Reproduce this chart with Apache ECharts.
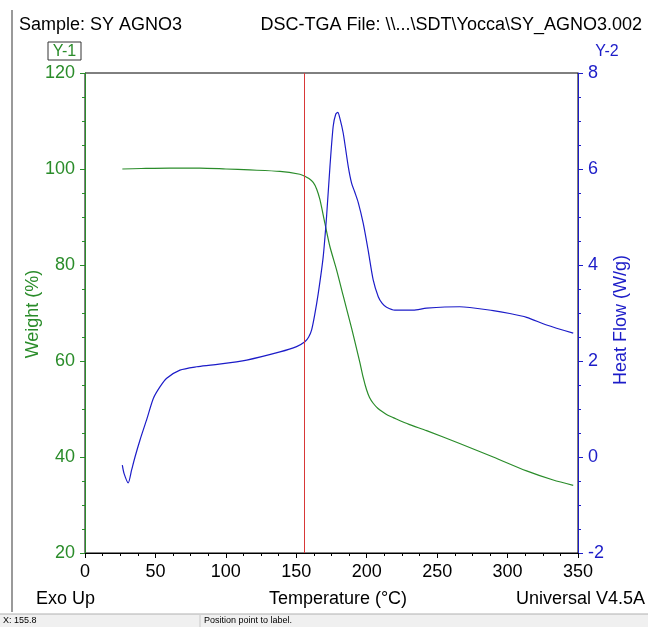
<!DOCTYPE html>
<html>
<head>
<meta charset="utf-8">
<script src="https://cdn.jsdelivr.net/npm/echarts@6/dist/echarts.min.js"></script>
<style>
html,body{margin:0;padding:0;background:#fff;}
#c{width:648px;height:627px;}
</style>
</head>
<body>
<div id="c"></div>
<script>
// Weight (%) vs temperature (°C)
var weightT = [26.5, 40, 60, 81.6, 100, 117, 138.4, 152.5, 156.1, 159, 162, 164.5, 166.8, 170.3, 173.9, 178.6, 183.3, 189.3, 193, 195.2, 197.5, 199.9, 202, 204.6, 208, 211.7, 215, 218.8, 230, 242.5, 266, 289.8, 313.5, 332.4, 346.6];
var weightV = [100.0, 100.1, 100.2, 100.2, 100.0, 99.8, 99.5, 98.9, 98.5, 98.0, 97.2, 95.8, 93.6, 88.7, 83.8, 79.0, 73.6, 66.8, 62.3, 59.6, 56.6, 54.0, 52.4, 51.2, 50.1, 49.3, 48.7, 48.2, 46.8, 45.5, 42.8, 40.0, 37.1, 35.2, 34.1];
// Heat flow (W/g) vs temperature (°C)
var heatT = [26.5, 27.7, 30.7, 33.1, 35.5, 39, 44, 48.5, 53.2, 58, 67.4, 79.3, 91, 114.8, 138.4, 150.2, 156.1, 158.8, 160.9, 163, 165.6, 169.1, 171.5, 173.9, 176.2, 178, 179.5, 181, 183.3, 186.9, 189.3, 191.5, 194, 197.5, 201, 204.6, 208.2, 211, 214.1, 220, 233, 242.5, 266, 289.8, 301.6, 313.5, 327.7, 346.6];
var heatV = [-0.17, -0.34, -0.54, -0.27, 0.0, 0.35, 0.80, 1.22, 1.46, 1.64, 1.81, 1.88, 1.92, 2.02, 2.19, 2.30, 2.40, 2.50, 2.65, 2.95, 3.41, 4.17, 5.01, 6.05, 6.89, 7.14, 7.18, 7.05, 6.75, 6.05, 5.70, 5.52, 5.30, 4.87, 4.31, 3.69, 3.34, 3.20, 3.12, 3.06, 3.06, 3.10, 3.13, 3.05, 2.99, 2.91, 2.75, 2.58];
var cursorX = 155.8;
var xTicks = [0, 350, 50];
var y1Ticks = [20, 120, 20];
var y2Ticks = [-2, 8, 2];

var GREEN = '#2a8c2a';
var BLUE = '#1c1cc8';
var FONT = 'Liberation Sans, Arial, sans-serif';

function pairs(a, b) { return a.map(function (v, i) { return [v, b[i]]; }); }

var chart = echarts.init(document.getElementById('c'), null, {renderer: 'canvas'});
chart.setOption({
  animation: false,
  backgroundColor: '#fff',
  grid: {left: 85, top: 73, width: 493, height: 480, show: true, borderColor: '#000', borderWidth: 1, backgroundColor: 'transparent'},
  xAxis: {
    type: 'value', min: xTicks[0], max: xTicks[1], interval: xTicks[2],
    axisLine: {show: true, onZero: false, lineStyle: {color: '#000', width: 1}},
    axisTick: {show: true, length: 5, lineStyle: {color: '#000'}},
    minorTick: {show: true, splitNumber: 4, length: 3, lineStyle: {color: '#000'}},
    splitLine: {show: false},
    axisLabel: {color: '#000', fontSize: 18, fontFamily: FONT, margin: 10}
  },
  yAxis: [{
    type: 'value', min: y1Ticks[0], max: y1Ticks[1], interval: y1Ticks[2], position: 'left',
    axisLine: {show: true, onZero: false, lineStyle: {color: GREEN, width: 1}},
    axisTick: {show: true, length: 5, lineStyle: {color: GREEN}},
    minorTick: {show: true, splitNumber: 4, length: 3, lineStyle: {color: GREEN}},
    splitLine: {show: false},
    axisLabel: {color: GREEN, fontSize: 18, fontFamily: FONT, margin: 10}
  }, {
    type: 'value', min: y2Ticks[0], max: y2Ticks[1], interval: y2Ticks[2], position: 'right',
    axisLine: {show: true, onZero: false, lineStyle: {color: BLUE, width: 1}},
    axisTick: {show: true, length: 5, lineStyle: {color: BLUE}},
    minorTick: {show: true, splitNumber: 4, length: 3, lineStyle: {color: BLUE}},
    splitLine: {show: false},
    axisLabel: {color: BLUE, fontSize: 18, fontFamily: FONT, margin: 10}
  }],
  series: [{
    name: 'Weight', type: 'line', yAxisIndex: 0, data: pairs(weightT, weightV),
    smooth: 0.25, symbol: 'none', lineStyle: {color: GREEN, width: 1.2},
    markLine: {
      silent: true, symbol: 'none', label: {show: false},
      lineStyle: {color: '#d83838', type: 'solid', width: 1},
      data: [{xAxis: cursorX}]
    }
  }, {
    name: 'Heat Flow', type: 'line', yAxisIndex: 1, data: pairs(heatT, heatV),
    smooth: 0.25, symbol: 'none', lineStyle: {color: BLUE, width: 1.2}
  }],
  graphic: [
    {type: 'line', shape: {x1: 12, y1: 10, x2: 12, y2: 612}, style: {stroke: '#9a9a9a', lineWidth: 2}},
    {type: 'text', x: 19, y: 25, style: {text: 'Sample: SY AGNO3', font: '18px ' + FONT, fill: '#000', verticalAlign: 'middle'}},
    {type: 'text', x: 642, y: 25, style: {text: 'DSC-TGA File: \\\\...\\SDT\\Yocca\\SY_AGNO3.002', font: '18px ' + FONT, fill: '#000', align: 'right', verticalAlign: 'middle'}},
    {type: 'rect', shape: {x: 48, y: 42, width: 33, height: 18}, style: {fill: 'none', stroke: '#333', lineWidth: 1}},
    {type: 'text', x: 64.5, y: 51.5, style: {text: 'Y-1', font: '16px ' + FONT, fill: GREEN, align: 'center', verticalAlign: 'middle'}},
    {type: 'text', x: 607, y: 51.5, style: {text: 'Y-2', font: '16px ' + FONT, fill: BLUE, align: 'center', verticalAlign: 'middle'}},
    {type: 'text', x: 33, y: 314, rotation: Math.PI / 2, style: {text: 'Weight (%)', font: '18px ' + FONT, fill: GREEN, align: 'center', verticalAlign: 'middle'}},
    {type: 'text', x: 621, y: 320, rotation: Math.PI / 2, style: {text: 'Heat Flow (W/g)', font: '18px ' + FONT, fill: BLUE, align: 'center', verticalAlign: 'middle'}},
    {type: 'text', x: 36, y: 599, style: {text: 'Exo Up', font: '18px ' + FONT, fill: '#000', verticalAlign: 'middle'}},
    {type: 'text', x: 338, y: 599, style: {text: 'Temperature (°C)', font: '18px ' + FONT, fill: '#000', align: 'center', verticalAlign: 'middle'}},
    {type: 'text', x: 645, y: 599, style: {text: 'Universal V4.5A', font: '18px ' + FONT, fill: '#000', align: 'right', verticalAlign: 'middle'}},
    {type: 'rect', shape: {x: 0, y: 614, width: 648, height: 13}, style: {fill: '#f0f0f0', stroke: 'none'}},
    {type: 'line', shape: {x1: 0, y1: 614, x2: 648, y2: 614}, style: {stroke: '#b0b0b0', lineWidth: 1}},
    {type: 'line', shape: {x1: 200, y1: 615, x2: 200, y2: 627}, style: {stroke: '#c8c8c8', lineWidth: 1}},
    {type: 'text', x: 3, y: 621, style: {text: 'X: 155.8', font: '9px ' + FONT, fill: '#000', verticalAlign: 'middle'}},
    {type: 'text', x: 204, y: 621, style: {text: 'Position point to label.', font: '9px ' + FONT, fill: '#000', verticalAlign: 'middle'}}
  ]
});
</script>
</body>
</html>
